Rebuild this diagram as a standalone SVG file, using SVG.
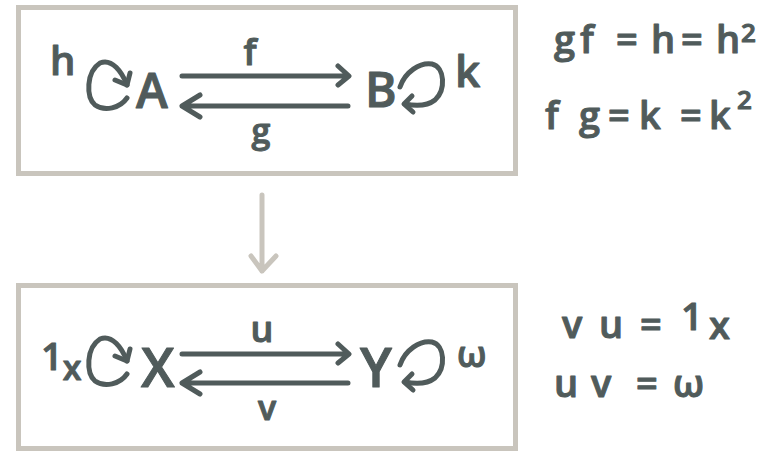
<svg xmlns="http://www.w3.org/2000/svg" width="765" height="452" viewBox="0 0 765 452">
<style>
.box{fill:none;stroke:#c9c5bd;stroke-width:5}
.t{font-family:"Open Sans","Liberation Sans",sans-serif;font-weight:600;fill:#505b5b;stroke:#505b5b;stroke-width:1;stroke-linejoin:round}
.ln{fill:none;stroke:#505b5b;stroke-width:5;stroke-linecap:round;stroke-linejoin:round}
.big{fill:none;stroke:#c9c5bd;stroke-width:5;stroke-linecap:round;stroke-linejoin:round}
</style>
<rect width="765" height="452" fill="#ffffff"/>
<g id="box-top"><rect class="box" x="18.5" y="7.5" width="497" height="166"/></g>
<g id="box-bottom"><rect class="box" x="18.5" y="285.5" width="497" height="163"/></g>
<g id="node-A"><text class="t" x="50" y="75" font-size="40">h</text><text class="t" x="136" y="108" font-size="48">A</text></g>
<g id="node-B"><text class="t" x="365" y="107" font-size="48">B</text><text class="t" x="455" y="87" font-size="44">k</text></g>
<g id="node-X"><text class="t" x="41" y="370" font-size="38">1<tspan dy="10" font-size="34">x</tspan></text><text class="t" x="141" y="387" font-size="54">X</text></g>
<g id="node-Y"><text class="t" x="360" y="387" font-size="54">Y</text><text class="t" x="457" y="367" font-size="36">ω</text></g>
<g id="eq-top">
<text class="t" y="53" font-size="38"><tspan x="554">g</tspan><tspan x="580">f</tspan><tspan x="616">=</tspan><tspan x="651">h</tspan><tspan x="681">=</tspan><tspan x="716">h</tspan><tspan x="741" y="42" font-size="26">2</tspan></text>
<text class="t" y="129" font-size="38"><tspan x="545">f</tspan><tspan x="579">g</tspan><tspan x="608">=</tspan><tspan x="639">k</tspan><tspan x="680">=</tspan><tspan x="709">k</tspan><tspan x="737" y="109" font-size="26">2</tspan></text>
</g>
<g id="eq-bottom">
<text class="t" y="338" font-size="38"><tspan x="562">v</tspan><tspan x="599">u</tspan><tspan x="640">=</tspan><tspan x="681" y="330">1</tspan><tspan x="709" y="339">x</tspan></text>
<text class="t" y="397" font-size="38"><tspan x="554">u</tspan><tspan x="591">v</tspan><tspan x="636">=</tspan><tspan x="673">ω</tspan></text>
</g>
<g id="connectors">
<g id="loop-h"><path class="ln" d="M127,98 C120,108 105,112 95,105 C86,97 86,72 100,63 C112,58 122,72 127,85"/><path class="ln" d="M115,80 L127,85 L130,73"/></g>
<g id="loop-k"><path class="ln" d="M400,87 C405,72 420,62 432,64 C445,67 446,90 435,100 C426,107 415,106 405,104"/><path class="ln" d="M412,96 L404,104 L413,112"/></g>
<g id="edge-f"><path class="ln" d="M182,76 L348,76 M338,66 L349,76 L338,85"/><text class="t" x="250" y="65" font-size="36" text-anchor="middle">f</text></g>
<g id="edge-g"><path class="ln" d="M182,106 L348,106 M200,95 L182,106 L200,117"/><text class="t" x="261" y="143" font-size="34" text-anchor="middle">g</text></g>
<g id="loop-1x"><path class="ln" d="M127,374 C120,384 105,388 95,381 C86,373 86,348 100,339 C112,334 122,348 127,361"/><path class="ln" d="M115,356 L127,361 L130,349"/></g>
<g id="loop-w"><path class="ln" d="M400,365 C405,350 420,340 432,342 C445,345 446,368 435,378 C426,385 415,384 405,382"/><path class="ln" d="M412,374 L404,382 L413,390"/></g>
<g id="edge-u"><path class="ln" d="M182,354 L348,354 M338,344 L349,354 L338,363"/><text class="t" x="262" y="342" font-size="36" text-anchor="middle">u</text></g>
<g id="edge-v"><path class="ln" d="M182,383 L348,383 M200,372 L182,383 L200,394"/><text class="t" x="267" y="420" font-size="34" text-anchor="middle">v</text></g>
<g id="edge-down"><path class="big" d="M262,195 L262,271 M251,256 L262,271 L276,256"/></g>
</g>
</svg>
